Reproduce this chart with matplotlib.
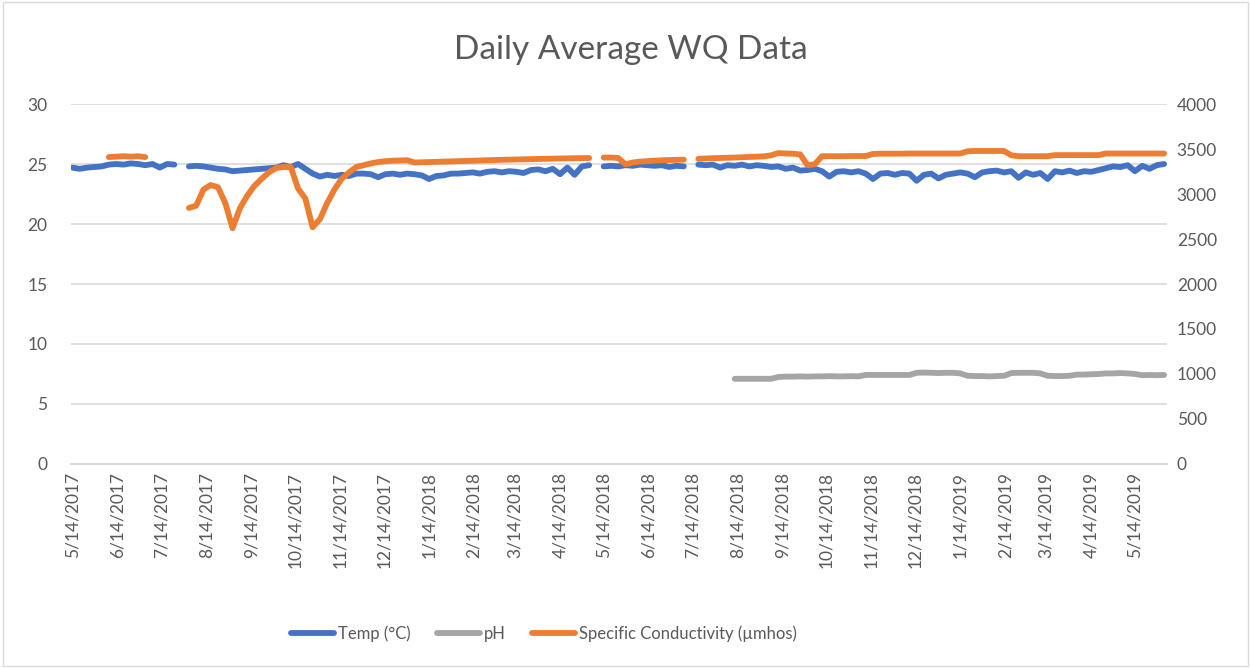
import matplotlib
matplotlib.use("Agg")
import matplotlib.pyplot as plt
import matplotlib.dates as mdates
from matplotlib.ticker import FuncFormatter
from matplotlib.patches import Rectangle
import numpy as np
import pandas as pd

plt.rcParams['font.family'] = ['Lato', 'DejaVu Sans']

# logger readings, one value every 5 days starting 5/14/2017 (None = no data)
start_date = "2017-05-14"
step_days = 5

temp_c = [
    24.7, 24.6, 24.7, 24.75, 24.8, 24.95, 25.0, 24.95, 25.05, 25.0,
    24.9, 25.0, 24.7, 25.0, 24.95, None, 24.8, 24.85, 24.8, 24.7,
    24.6, 24.55, 24.4, 24.45, 24.5, 24.55, 24.6, 24.65, 24.7, 24.9,
    24.75, 25.0, 24.6, 24.2, 23.95, 24.1, 24.0, 24.1, 24.0, 24.2,
    24.2, 24.15, 23.9, 24.15, 24.2, 24.1, 24.2, 24.15, 24.05, 23.75,
    24.0, 24.05, 24.2, 24.2, 24.25, 24.3, 24.2, 24.35, 24.4, 24.3,
    24.4, 24.35, 24.25, 24.5, 24.55, 24.4, 24.6, 24.15, 24.7, 24.1,
    24.8, 24.9, None, 24.8, 24.85, 24.8, 24.9, 24.85, 24.95, 24.9,
    24.85, 24.9, 24.75, 24.85, 24.8, None, 24.95, 24.9, 24.95, 24.7,
    24.9, 24.85, 24.95, 24.8, 24.9, 24.85, 24.75, 24.8, 24.6, 24.7,
    24.45, 24.5, 24.6, 24.4, 23.95, 24.35, 24.4, 24.3, 24.4, 24.2,
    23.75, 24.2, 24.25, 24.1, 24.25, 24.2, 23.6, 24.1, 24.2, 23.8,
    24.1, 24.2, 24.3, 24.2, 23.9, 24.3, 24.4, 24.45, 24.3, 24.4,
    23.85, 24.3, 24.1, 24.25, 23.75, 24.4, 24.3, 24.45, 24.25, 24.4,
    24.35, 24.5, 24.65, 24.8, 24.75, 24.9, 24.4, 24.85, 24.6, 24.9, 25.0,
]

ph = [None] * 91 + [
    7.1, 7.1, 7.1, 7.1, 7.1, 7.1,
    7.25, 7.28, 7.28, 7.3, 7.28, 7.3, 7.3, 7.32, 7.3, 7.3, 7.32, 7.3,
    7.42, 7.42, 7.42, 7.42, 7.42, 7.42, 7.42,
    7.6, 7.62, 7.6, 7.58, 7.6, 7.6, 7.55,
    7.35, 7.33, 7.33, 7.3, 7.33, 7.35,
    7.58, 7.6, 7.6, 7.6, 7.55,
    7.35, 7.33, 7.33, 7.35,
    7.45, 7.45, 7.48, 7.5,
    7.55, 7.55, 7.58, 7.55, 7.5,
    7.4, 7.42, 7.4, 7.42,
]

conductivity = [
    None, None, None, None, None, 3410, 3415, 3420, 3415, 3420,
    3410, None, None, None, None, None, 2845, 2870, 3050, 3100,
    3075, 2900, 2620, 2840, 2980, 3090, 3170, 3240, 3290, 3300,
    3300, 3060, 2950, 2630, 2720, 2900, 3050, 3170, 3240, 3300,
    3320, 3340, 3355, 3365, 3370, 3372, 3375, 3350, 3352, 3355,
    3358, 3360, 3362, 3365, 3367, 3370, 3372, 3375, 3378, 3380,
    3382, 3385, 3387, 3388, 3390, 3392, 3393, 3395, 3396, 3397,
    3398, 3400, None, 3405, 3405, 3400, 3330, 3350, 3360, 3365,
    3370, 3375, 3378, 3380, 3382, None, 3390, 3395, 3398, 3400,
    3402, 3405, 3408, 3410, 3413, 3418, 3430, 3455, 3450, 3448,
    3440, 3320, 3330, 3420, 3420, 3420, 3420, 3422, 3422, 3422,
    3445, 3448, 3448, 3448, 3448, 3450, 3450, 3450, 3450, 3450,
    3450, 3450, 3450, 3475, 3478, 3478, 3478, 3478, 3478, 3430,
    3420, 3420, 3420, 3420, 3420, 3432, 3432, 3432, 3432, 3432,
    3432, 3432, 3450, 3450, 3450, 3450, 3450, 3450, 3450, 3450, 3450,
]

days = pd.date_range(start_date, periods=len(temp_c), freq=f"{step_days}D")
temp_c = np.array(temp_c, dtype=float)
ph = np.array(ph, dtype=float)
conductivity = np.array(conductivity, dtype=float)

grey_text = '#595959'
grid_col = '#D9D9D9'

fig = plt.figure(figsize=(12.5, 6.68), dpi=100)
ax = fig.add_axes([0.0568, 0.3054, 0.8768, 0.5389])
ax2 = ax.twinx()

line_kw = dict(lw=4.2, solid_capstyle='round', solid_joinstyle='round')
l1, = ax.plot(days, temp_c, color='#4472C4', label='Temp (°C)', **line_kw)
l2, = ax.plot(days, ph, color='#A5A5A5', label='pH', **line_kw)
l3, = ax2.plot(days, conductivity, color='#ED7D31',
               label='Specific Conductivity (µmhos)', **line_kw)

ax.set_ylim(0, 30)
ax.set_yticks(range(0, 31, 5))
ax2.set_ylim(0, 4000)
ax2.set_yticks(range(0, 4001, 500))
ax.set_xlim(pd.Timestamp("2017-05-13"), pd.Timestamp("2019-06-05"))

ax.yaxis.grid(True, color=grid_col, lw=1.2)
ax.set_axisbelow(True)
for a in (ax, ax2):
    for side in ('top', 'left', 'right'):
        a.spines[side].set_visible(False)
    a.spines['bottom'].set_color(grid_col)
    a.spines['bottom'].set_linewidth(1.2)

ax.xaxis.set_major_locator(mdates.MonthLocator(bymonthday=14))
ax.xaxis.set_major_formatter(FuncFormatter(
    lambda v, p: (lambda d: f"{d.month}/{d.day}/{d.year}")(mdates.num2date(v))))
ax.tick_params(axis='x', length=0, pad=6, labelsize=12.5, labelcolor=grey_text,
               labelrotation=90)
ax.tick_params(axis='y', length=0, pad=17, labelsize=12.5, labelcolor=grey_text)
ax2.tick_params(axis='y', length=0, pad=7, labelsize=12.5, labelcolor=grey_text)

fig.suptitle('Daily Average WQ Data', x=0.505, y=0.947, fontsize=24,
             color=grey_text)

fig.legend(handles=[l1, l2, l3], loc='center', bbox_to_anchor=(0.435, 0.051),
           ncol=3, frameon=False, fontsize=12, handlelength=2.6,
           handletextpad=0.2, columnspacing=1.6, labelcolor=grey_text)

fig.patches.append(Rectangle((0.002, 0.003), 0.996, 0.994,
                             transform=fig.transFigure, fill=False,
                             edgecolor=grid_col, lw=1))

fig.savefig('out.png', dpi=100)
